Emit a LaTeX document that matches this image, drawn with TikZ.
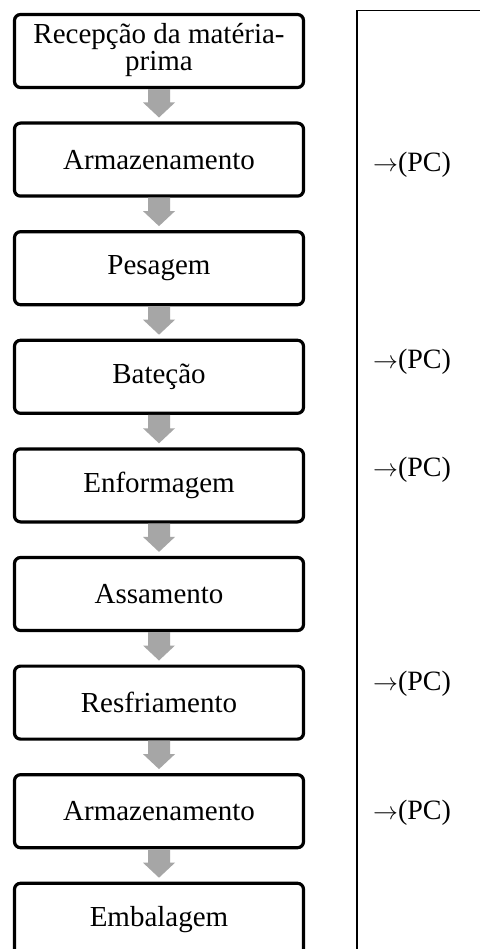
\documentclass[tikz,border=0pt]{standalone}
\usepackage{fontspec}
\setmainfont{Liberation Serif}
\usetikzlibrary{calc}
\definecolor{arrowgray}{HTML}{A6A6A6}
\tikzset{
  stepbox/.style={draw=black, line width=3.2pt, rounded corners=6pt, fill=white,
    minimum width=289pt, minimum height=73pt, inner sep=0pt, align=center,
    font=\fontsize{29}{28}\selectfont},
  pclabel/.style={anchor=west, inner sep=0pt, font=\fontsize{28}{30}\selectfont},
  panel/.style={draw=black, line width=1.5pt},
}
\newcommand\flowarr[2]{%
  \fill[arrowgray] let \p1=(#1.south), \p2=(#2.north) in
    (\x1-11pt,\y1) -- (\x1+11pt,\y1) -- (\x1+11pt,\y2+19pt) -- (\x1+16pt,\y2+19pt)
    -- (\x1,\y2+4pt) -- (\x1-16pt,\y2+19pt) -- (\x1-11pt,\y2+19pt) -- cycle;}
\newcommand\pctext{$\rightarrow$(PC)}
\begin{document}
\begin{tikzpicture}[x=1pt,y=-1pt]
\useasboundingbox (0,0) rectangle (479,949);
\fill[white] (0,0) rectangle (479,949);
% right panel
\coordinate (pTR) at (485,10.75);
\coordinate (pTL) at (356.75,10.75);
\coordinate (pBL) at (356.75,960);
\draw[panel] (pTR) -- (pTL) -- (pBL);
% boxes
\node[stepbox] (b1) at (159,51)    {\raisebox{-3pt}{\begin{tabular}{@{}c@{}}Recepção da matéria-\\[-1pt]prima\end{tabular}}};
\node[stepbox] (b2) at (159,159.6) {Armazenamento};
\node[stepbox] (b3) at (159,268.2) {Pesagem};
\node[stepbox] (b4) at (159,376.8) {Bateção};
\node[stepbox] (b5) at (159,485.4) {Enformagem};
\node[stepbox] (b6) at (159,594)   {Assamento};
\node[stepbox] (b7) at (159,702.6) {Resfriamento};
\node[stepbox] (b8) at (159,811.2) {Armazenamento};
\node[stepbox] (b9) at (159,919.8) {Embalagem};
% arrows
\flowarr{b1}{b2}
\flowarr{b2}{b3}
\flowarr{b3}{b4}
\flowarr{b4}{b5}
\flowarr{b5}{b6}
\flowarr{b6}{b7}
\flowarr{b7}{b8}
\flowarr{b8}{b9}
% labels
\node[pclabel] (l1) at (373,165) {\pctext};
\node[pclabel] (l2) at (373,362) {\pctext};
\node[pclabel] (l3) at (373,470) {\pctext};
\node[pclabel] (l4) at (373,684) {\pctext};
\node[pclabel] (l5) at (373,813) {\pctext};
\end{tikzpicture}
\end{document}
